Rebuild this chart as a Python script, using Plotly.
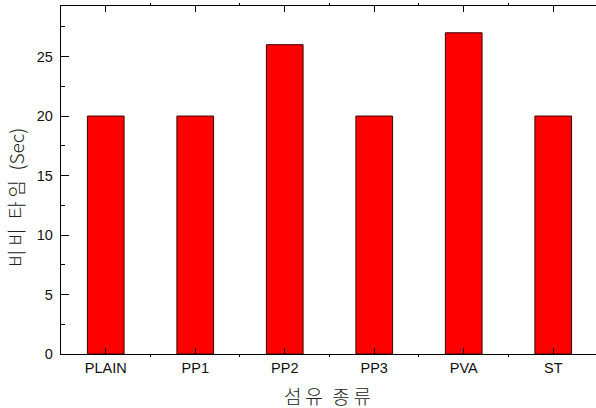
import plotly.graph_objects as go

# Vebe time by fiber type
categories = ["PLAIN", "PP1", "PP2", "PP3", "PVA", "ST"]
vebe_time = [20, 20, 26, 20, 27, 20]
y_ticks = [0, 5, 10, 15, 20, 25]

positions = list(range(len(categories)))

tick_font = dict(family="Liberation Sans, Arial, sans-serif", size=14.5, color="#111111")
kr_font = dict(family="Noto Sans CJK KR, sans-serif", size=19, color="#222222", weight=300)

THIN = "\u2009"
GAP = "\u2002"
x_title = THIN.join("섬유") + GAP + THIN.join("종류")
y_title = THIN.join("비비") + GAP + THIN.join("타임") + GAP + "(Sec)"

fig = go.Figure(
    go.Bar(
        x=positions,
        y=vebe_time,
        width=0.41,
        marker=dict(color="#ff0000", line=dict(color="#3a0505", width=1)),
    )
)

fig.update_layout(
    width=596,
    height=408,
    margin=dict(l=61, r=0, t=6, b=54, autoexpand=False),
    paper_bgcolor="white",
    plot_bgcolor="white",
    showlegend=False,
    xaxis=dict(
        range=[-0.5, 5.478],
        tickmode="array",
        tickvals=positions,
        ticktext=categories,
        ticks="inside",
        ticklen=6,
        tickwidth=1.2,
        tickcolor="black",
        showline=True,
        linecolor="black",
        linewidth=1.3,
        mirror="ticks",
        showgrid=False,
        zeroline=False,
        tickfont=tick_font,
        minor=dict(ticks="outside", ticklen=2, tickwidth=1, tickcolor="black",
                   tick0=0.5, dtick=1, showgrid=False),
    ),
    yaxis=dict(
        range=[0, 29.25],
        tickmode="array",
        tickvals=y_ticks,
        ticks="inside",
        ticklen=8,
        tickwidth=1.2,
        tickcolor="black",
        showline=True,
        linecolor="black",
        linewidth=1.3,
        mirror=False,
        showgrid=False,
        zeroline=False,
        tickfont=tick_font,
        ticklabelstandoff=4,
        minor=dict(ticks="inside", ticklen=4, tickwidth=1, tickcolor="black",
                   tick0=0, dtick=2.5, showgrid=False),
    ),
    annotations=[
        dict(text=x_title, xref="paper", yref="paper", x=0.499, y=-0.119,
             xanchor="center", yanchor="middle", showarrow=False, font=kr_font),
        dict(text=y_title, xref="paper", yref="paper", x=-0.085, y=0.45,
             xanchor="center", yanchor="middle", showarrow=False, textangle=-90,
             font=kr_font),
    ],
)

fig.write_html("out.html")
